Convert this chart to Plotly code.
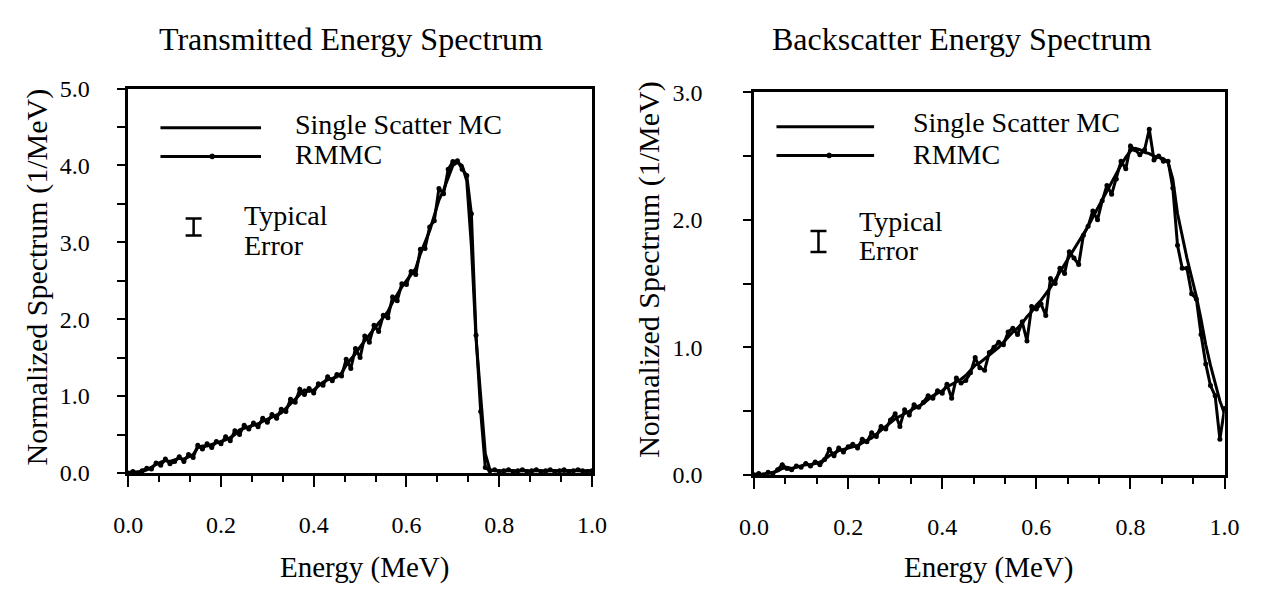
import plotly.graph_objects as go

# ---------------- data ----------------
energy = [0.00, 0.01, 0.02, 0.03, 0.04, 0.05, 0.06, 0.07, 0.08, 0.09,
          0.10, 0.11, 0.12, 0.13, 0.14, 0.15, 0.16, 0.17, 0.18, 0.19,
          0.20, 0.21, 0.22, 0.23, 0.24, 0.25, 0.26, 0.27, 0.28, 0.29,
          0.30, 0.31, 0.32, 0.33, 0.34, 0.35, 0.36, 0.37, 0.38, 0.39,
          0.40, 0.41, 0.42, 0.43, 0.44, 0.45, 0.46, 0.47, 0.48, 0.49,
          0.50, 0.51, 0.52, 0.53, 0.54, 0.55, 0.56, 0.57, 0.58, 0.59,
          0.60, 0.61, 0.62, 0.63, 0.64, 0.65, 0.66, 0.67, 0.68, 0.69,
          0.70, 0.71, 0.72, 0.73, 0.74, 0.75, 0.76, 0.77, 0.78, 0.79,
          0.80, 0.81, 0.82, 0.83, 0.84, 0.85, 0.86, 0.87, 0.88, 0.89,
          0.90, 0.91, 0.92, 0.93, 0.94, 0.95, 0.96, 0.97, 0.98, 0.99, 1.00]

# Transmitted energy spectrum (1/MeV)
trans_single = [0.00, 0.01, 0.01, 0.02, 0.04, 0.08, 0.11, 0.14, 0.16, 0.15,
                0.17, 0.19, 0.18, 0.21, 0.24, 0.33, 0.35, 0.35, 0.37, 0.38,
                0.40, 0.43, 0.46, 0.50, 0.56, 0.58, 0.60, 0.61, 0.64, 0.67,
                0.70, 0.72, 0.75, 0.78, 0.84, 0.90, 0.96, 1.03, 1.08, 1.06,
                1.08, 1.13, 1.18, 1.21, 1.23, 1.25, 1.30, 1.40, 1.48, 1.55,
                1.64, 1.72, 1.80, 1.88, 1.95, 2.02, 2.10, 2.22, 2.33, 2.42,
                2.50, 2.58, 2.66, 2.85, 3.00, 3.15, 3.35, 3.55, 3.68, 3.85,
                4.00, 4.04, 4.00, 3.80, 2.95, 1.75, 0.95, 0.25, 0.04, 0.03,
                0.03, 0.02, 0.03, 0.03, 0.02, 0.03, 0.03, 0.02, 0.03, 0.03,
                0.02, 0.03, 0.03, 0.03, 0.02, 0.03, 0.03, 0.03, 0.02, 0.03, 0.03]
trans_rmmc = [0.00, 0.02, 0.00, 0.03, 0.06, 0.05, 0.13, 0.10, 0.18, 0.12,
              0.15, 0.21, 0.15, 0.24, 0.20, 0.36, 0.31, 0.38, 0.33, 0.41,
              0.38, 0.47, 0.42, 0.55, 0.50, 0.62, 0.57, 0.65, 0.60, 0.71,
              0.66, 0.76, 0.71, 0.83, 0.80, 0.96, 0.92, 1.09, 1.02, 1.10,
              1.04, 1.16, 1.14, 1.25, 1.20, 1.28, 1.26, 1.48, 1.36, 1.62,
              1.50, 1.78, 1.70, 1.92, 1.84, 2.05, 2.02, 2.29, 2.24, 2.46,
              2.45, 2.62, 2.58, 2.91, 2.92, 3.20, 3.28, 3.70, 3.63, 3.95,
              4.05, 4.06, 3.95, 3.87, 3.37, 1.79, 0.80, 0.07, 0.03, 0.04,
              0.02, 0.03, 0.04, 0.02, 0.03, 0.04, 0.02, 0.03, 0.04, 0.02,
              0.03, 0.04, 0.02, 0.03, 0.04, 0.02, 0.03, 0.04, 0.03, 0.02, 0.03]

# Backscatter energy spectrum (1/MeV)
back_single = [0.00, 0.00, 0.00, 0.01, 0.02, 0.03, 0.05, 0.06, 0.05, 0.06,
               0.07, 0.08, 0.08, 0.09, 0.10, 0.12, 0.15, 0.17, 0.19, 0.20,
               0.21, 0.22, 0.23, 0.25, 0.27, 0.29, 0.32, 0.35, 0.38, 0.41,
               0.44, 0.46, 0.48, 0.50, 0.52, 0.54, 0.56, 0.59, 0.62, 0.64,
               0.66, 0.69, 0.71, 0.73, 0.75, 0.78, 0.82, 0.86, 0.88, 0.91,
               0.94, 0.97, 1.00, 1.04, 1.08, 1.12, 1.15, 1.19, 1.24, 1.28,
               1.33, 1.37, 1.42, 1.47, 1.53, 1.59, 1.64, 1.70, 1.76, 1.82,
               1.88, 1.95, 2.02, 2.09, 2.16, 2.23, 2.30, 2.37, 2.43, 2.49,
               2.54, 2.56, 2.55, 2.53, 2.52, 2.50, 2.49, 2.48, 2.45, 2.32,
               2.05, 1.86, 1.70, 1.55, 1.40, 1.22, 1.02, 0.86, 0.72, 0.58, 0.48]
back_rmmc = [0.00, 0.01, 0.00, 0.02, 0.01, 0.04, 0.08, 0.05, 0.04, 0.07,
             0.06, 0.09, 0.07, 0.10, 0.08, 0.12, 0.20, 0.15, 0.21, 0.18,
             0.22, 0.24, 0.21, 0.28, 0.26, 0.33, 0.30, 0.38, 0.36, 0.43,
             0.48, 0.38, 0.51, 0.47, 0.55, 0.53, 0.57, 0.62, 0.60, 0.66,
             0.64, 0.71, 0.60, 0.76, 0.72, 0.74, 0.80, 0.92, 0.84, 0.82,
             0.96, 1.00, 1.04, 1.02, 1.12, 1.15, 1.10, 1.20, 1.05, 1.32,
             1.30, 1.34, 1.25, 1.54, 1.50, 1.62, 1.58, 1.75, 1.70, 1.65,
             1.88, 1.95, 2.07, 2.00, 2.15, 2.27, 2.20, 2.32, 2.46, 2.40,
             2.58, 2.55, 2.51, 2.55, 2.71, 2.47, 2.50, 2.46, 2.46, 2.25,
             1.80, 1.62, 1.62, 1.42, 1.38, 1.10, 0.87, 0.70, 0.62, 0.28, 0.52]

x_ticks = [0.0, 0.2, 0.4, 0.6, 0.8, 1.0]
x_ticktext = ["0.0", "0.2", "0.4", "0.6", "0.8", "1.0"]
trans_yticks = [0.0, 1.0, 2.0, 3.0, 4.0, 5.0]
trans_yticktext = ["0.0", "1.0", "2.0", "3.0", "4.0", "5.0"]
back_yticks = [0.0, 1.0, 2.0, 3.0]
back_yticktext = ["0.0", "1.0", "2.0", "3.0"]

trans_typical_error = 0.11
back_typical_error = 0.083

panel_titles = ["Transmitted Energy Spectrum", "Backscatter Energy Spectrum"]
x_title = "Energy (MeV)"
y_title = "Normalized Spectrum (1/MeV)"
series_names = ["Single Scatter MC", "RMMC"]
error_label = ["Typical", "Error"]

# ---------------- styling ----------------
FONT = "Liberation Serif"
W, H = 1263, 594


def px_x(p):
    return p / W


def px_y(p):
    return 1 - p / H


def txt(size):
    return dict(family=FONT, size=size, color="black")


fig = go.Figure()
line_style = dict(color="black", width=3)

for xa, ya, single, rmmc in (("x", "y", trans_single, trans_rmmc),
                             ("x2", "y2", back_single, back_rmmc)):
    fig.add_trace(go.Scatter(x=energy, y=single, mode="lines", line=line_style,
                             name=series_names[0], xaxis=xa, yaxis=ya,
                             showlegend=False, cliponaxis=False))
    fig.add_trace(go.Scatter(x=energy, y=rmmc, mode="lines+markers", line=line_style,
                             marker=dict(size=5, color="black"),
                             name=series_names[1], xaxis=xa, yaxis=ya,
                             showlegend=False, cliponaxis=False))

# Typical error bars
fig.add_trace(go.Scatter(x=[0.141], y=[3.2], mode="markers",
                         marker=dict(size=1, color="rgba(0,0,0,0)"),
                         error_y=dict(type="constant", value=trans_typical_error,
                                      color="black", thickness=2.5, width=8),
                         xaxis="x", yaxis="y", showlegend=False, hoverinfo="skip"))
fig.add_trace(go.Scatter(x=[0.137], y=[1.83], mode="markers",
                         marker=dict(size=1, color="rgba(0,0,0,0)"),
                         error_y=dict(type="constant", value=back_typical_error,
                                      color="black", thickness=2.5, width=8),
                         xaxis="x2", yaxis="y2", showlegend=False, hoverinfo="skip"))

tickfont = txt(24)
common_x = dict(range=[0, 1], tickvals=x_ticks, ticktext=x_ticktext,
                ticks="outside", ticklen=11, tickwidth=2, tickcolor="black",
                showline=True, linecolor="black", linewidth=2.5, mirror=True,
                showgrid=False, zeroline=False, tickfont=tickfont,
                minor=dict(dtick=0.2 / 3, tick0=0, ticks="outside", ticklen=6,
                           tickwidth=2, tickcolor="black"),
                ticklabelstandoff=18)
common_y = dict(ticks="outside", ticklen=8, tickwidth=2, tickcolor="black",
                showline=True, linecolor="black", linewidth=2.5, mirror=True,
                showgrid=False, zeroline=False, tickfont=tickfont,
                minor=dict(dtick=0.5, tick0=0, ticks="outside", ticklen=8,
                           tickwidth=2, tickcolor="black"))

fig.update_layout(
    width=W, height=H,
    margin=dict(l=0, r=0, t=0, b=0),
    paper_bgcolor="white", plot_bgcolor="white",
    font=dict(family=FONT, color="black"),
    xaxis=dict(domain=[px_x(116), px_x(591)], anchor="y", **common_x),
    yaxis=dict(domain=[px_y(481), px_y(79)], anchor="x", range=[0, 5],
               tickvals=trans_yticks, ticktext=trans_yticktext,
               ticklabelstandoff=23, **common_y),
    xaxis2=dict(domain=[px_x(757), px_x(1239)], anchor="y2", **common_x),
    yaxis2=dict(domain=[px_y(483), px_y(83)], anchor="x2", range=[0, 3],
                tickvals=back_yticks, ticktext=back_yticktext,
                ticklabelstandoff=36, **common_y),
)

# Legend samples (pixel positions converted to paper coordinates)
legend_cfg = [
    # line x0, line x1, dot x, y single, y rmmc, text x, text y single, text y rmmc
    (149, 252, 202, 120, 150, 285, 117, 148),
    (780, 880, 834, 119, 149, 918, 115, 148),
]
for lx0, lx1, dx, ys, yr, tx, tys, tyr in legend_cfg:
    for yy in (ys, yr):
        fig.add_shape(type="line", xref="paper", yref="paper",
                      x0=px_x(lx0), x1=px_x(lx1), y0=px_y(yy), y1=px_y(yy),
                      line=dict(color="black", width=3))
    fig.add_shape(type="circle", xref="paper", yref="paper",
                  x0=px_x(dx - 2.5), x1=px_x(dx + 2.5), y0=px_y(yr + 2.5), y1=px_y(yr - 2.5),
                  fillcolor="black", line=dict(color="black", width=1))
    fig.add_annotation(text=series_names[0], xref="paper", yref="paper",
                       x=px_x(tx), y=px_y(tys), xanchor="left", yanchor="middle",
                       showarrow=False, font=txt(28))
    fig.add_annotation(text=series_names[1], xref="paper", yref="paper",
                       x=px_x(tx), y=px_y(tyr), xanchor="left", yanchor="middle",
                       showarrow=False, font=txt(28))

# Typical Error labels
for tx, ty1, ty2 in ((233, 212, 243), (862, 218, 248)):
    fig.add_annotation(text=error_label[0], xref="paper", yref="paper",
                       x=px_x(tx), y=px_y(ty1), xanchor="left", yanchor="middle",
                       showarrow=False, font=txt(28))
    fig.add_annotation(text=error_label[1], xref="paper", yref="paper",
                       x=px_x(tx), y=px_y(ty2), xanchor="left", yanchor="middle",
                       showarrow=False, font=txt(28))

# Titles and axis titles
for cx, title in ((344, panel_titles[0]), (970, panel_titles[1])):
    fig.add_annotation(text=title, xref="paper", yref="paper", x=px_x(cx), y=px_y(27),
                       xanchor="center", yanchor="middle", showarrow=False,
                       font=txt(32))
for cx in (358, 997):
    fig.add_annotation(text=x_title, xref="paper", yref="paper", x=px_x(cx), y=px_y(580),
                       xanchor="center", yanchor="middle", showarrow=False,
                       font=txt(29))
for cx, cy in ((22, 276), (650, 268)):
    fig.add_annotation(text=y_title, xref="paper", yref="paper", x=px_x(cx), y=px_y(cy),
                       xanchor="center", yanchor="middle", textangle=-90, showarrow=False,
                       font=txt(30))

fig.write_html("out.html", config={"displayModeBar": False},
               post_script="document.body.style.margin='0px';")
